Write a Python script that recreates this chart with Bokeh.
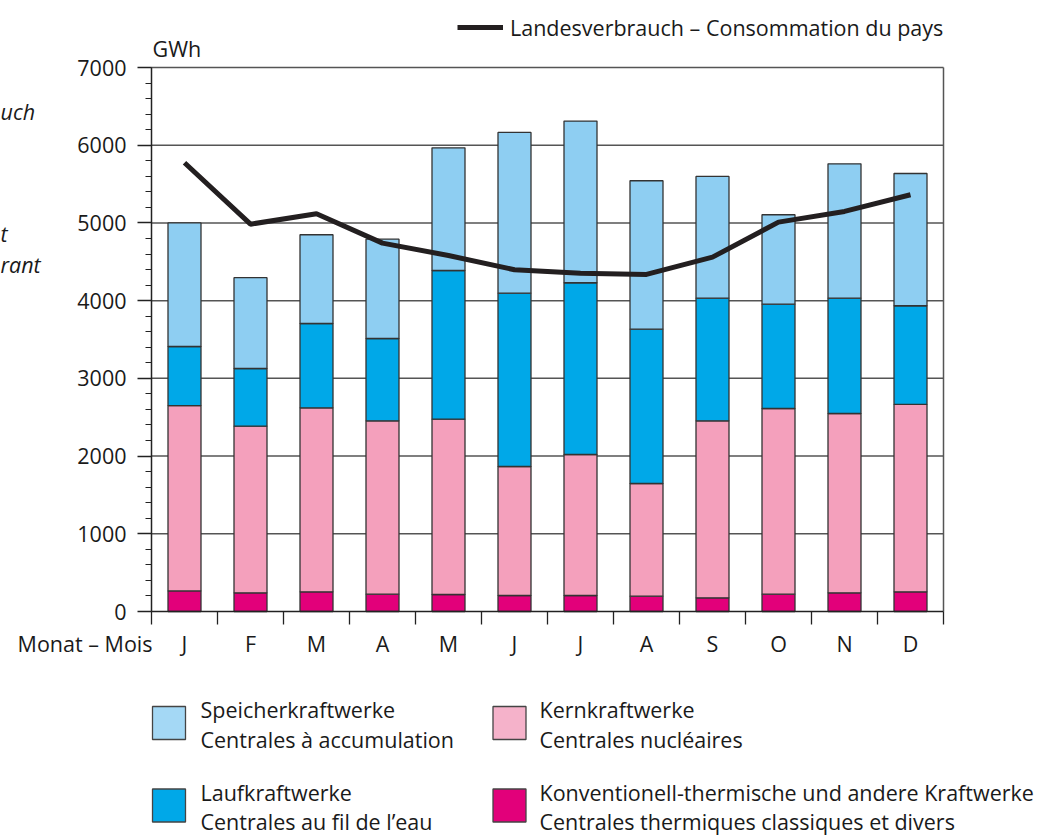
from bokeh.plotting import figure
from bokeh.models import (ColumnDataSource, FixedTicker, Legend, LegendItem, Range1d)
from bokeh.embed import file_html
from bokeh.resources import INLINE
from bokeh.core.properties import value

# ---------------- data (GWh) ----------------
months = ["J", "F", "M", "A", "M", "J", "J", "A", "S", "O", "N", "D"]
thermal = [265, 240, 253, 223, 219, 206, 206, 197, 176, 223, 240, 253]
nuclear = [2385, 2145, 2368, 2231, 2256, 1660, 1814, 1450, 2278, 2389, 2308, 2411]
river = [760, 742, 1085, 1059, 1913, 2230, 2210, 1986, 1578, 1343, 1484, 1270]
storage = [1590, 1168, 1142, 1278, 1579, 2068, 2080, 1910, 1566, 1150, 1729, 1702]
consumption = [5774, 4984, 5118, 4740, 4581, 4397, 4354, 4337, 4560, 5010, 5148, 5362]
y_ticks = [0, 1000, 2000, 3000, 4000, 5000, 6000, 7000]
y_minor = list(range(0, 7001, 200))
y_max = 7000

series_names = ["thermal", "nuclear", "river", "storage"]
series_colors = ["#E2007A", "#F4A0BC", "#00A8E8", "#8ECEF2"]
legend_de = ["Speicherkraftwerke", "Laufkraftwerke", "Kernkraftwerke",
             "Konventionell-thermische und andere Kraftwerke"]
legend_fr = ["Centrales à accumulation", "Centrales au fil de l\u2019eau", "Centrales nucléaires",
             "Centrales thermiques classiques et divers"]
legend_colors = ["#A4D8F5", "#00A8E8", "#F5B2CA", "#E2007A"]
line_label = "Landesverbrauch \u2013 Consommation du pays"
unit_label = "GWh"
x_title = "Monat \u2013 Mois"
fragments = ["uch", "t", "rant"]

FONT = "Open Sans"
FS = "21.5px"
TXT = "#1a1a1a"

# ---------------- pixel layout -> data ranges ----------------
W, H = 1039, 837
LEFT_PX, BAND_PX = 151, 66          # x axis start and width of one month
ZERO_PX, KY = 611, 544 / y_max      # y of value 0, px per GWh
n = len(months)

def dx(px):
    return 0.5 + (px - LEFT_PX) / BAND_PX

def dy(py):
    return (ZERO_PX - py) / KY

xs = list(range(1, n + 1))
src = ColumnDataSource(dict(x=xs, thermal=thermal, nuclear=nuclear, river=river, storage=storage))

p = figure(width=W, height=H, output_backend="svg", toolbar_location=None,
           x_range=Range1d(dx(0), dx(W)), y_range=Range1d(dy(H), dy(0)),
           min_border_left=0, min_border_right=0, min_border_top=0, min_border_bottom=0)
p.title.visible = False
p.background_fill_color = "white"
p.border_fill_color = "white"
p.outline_line_color = None
p.grid.visible = False

# horizontal grid lines + right frame border
p.segment(x0=0.5, x1=n + 0.5, y0=y_ticks[1:], y1=y_ticks[1:], line_color="#555555", line_width=1.5)
p.segment(x0=n + 0.5, x1=n + 0.5, y0=0, y1=y_max, line_color="#555555", line_width=1.5)

p.vbar_stack(series_names, x="x", width=0.5, source=src,
             fill_color=series_colors, line_color="#333333", line_width=1.3)
line_r = p.line(xs, consumption, line_color="#231f20", line_width=5)

# ---------------- axes ----------------
yax = p.yaxis[0]
yax.fixed_location = 0.5
yax.bounds = (0, y_max)
yax.ticker = FixedTicker(ticks=y_ticks, minor_ticks=y_minor)
yax.major_tick_in = 0
yax.major_tick_out = 14
yax.minor_tick_in = 0
yax.minor_tick_out = 6
yax.axis_line_color = "#222222"
yax.axis_line_width = 1.5
yax.major_tick_line_color = "#222222"
yax.major_tick_line_width = 1.5
yax.minor_tick_line_color = "#222222"
yax.minor_tick_line_width = 1.2
yax.major_label_standoff = 11
yax.major_label_text_font = FONT
yax.major_label_text_font_size = FS
yax.major_label_text_color = TXT

xax = p.xaxis[0]
xax.fixed_location = 0
xax.bounds = (0.5, n + 0.5)
xax.ticker = FixedTicker(ticks=xs, minor_ticks=[i + 0.5 for i in range(n + 1)])
xax.major_label_overrides = {x: m for x, m in zip(xs, months)}
xax.major_tick_in = 0
xax.major_tick_out = 0
xax.minor_tick_in = 0
xax.minor_tick_out = 13
xax.axis_line_color = "#222222"
xax.axis_line_width = 1.5
xax.minor_tick_line_color = "#222222"
xax.minor_tick_line_width = 1.3
xax.major_label_standoff = 4
xax.major_label_text_font = FONT
xax.major_label_text_font_size = FS
xax.major_label_text_color = TXT

# ---------------- texts ----------------
def txt(xpx, ypx, texts, align="left", style="normal"):
    p.text(x=[dx(v) for v in xpx], y=[dy(v) for v in ypx], text=texts,
           text_font=value(FONT), text_font_size=value(FS), text_color=TXT,
           text_align=align, text_baseline="alphabetic", text_font_style=style)

txt([152], [47.5], [unit_label])
txt([152], [643], [x_title], align="right")
txt([0, 0, 0], [110.5, 232.5, 264], fragments, style="italic")

# top legend (line)
legend = Legend(items=[LegendItem(label=line_label, renderers=[line_r])],
                location=(457, H - 27 - 15), orientation="horizontal", padding=0, margin=0, spacing=0,
                glyph_width=46, glyph_height=30, label_height=30, label_standoff=7,
                border_line_color=None, background_fill_alpha=0,
                label_text_font=FONT, label_text_font_size=FS, label_text_color=TXT)
p.add_layout(legend)

# bottom legend (boxes)
box_cx = [168.5, 168.5, 509, 509]
box_cy = [722.5, 805, 722.5, 805]
p.rect(x=[dx(v) for v in box_cx], y=[dy(v) for v in box_cy], width=33, height=33,
       width_units="screen", height_units="screen",
       fill_color=legend_colors, line_color="#444444", line_width=1.3)
tx = [200, 200, 539, 539]
txt(tx, [709, 792, 709, 792], legend_de)
txt(tx, [739, 821, 739, 821], legend_fr)

open("out.html", "w").write(file_html(p, INLINE))
